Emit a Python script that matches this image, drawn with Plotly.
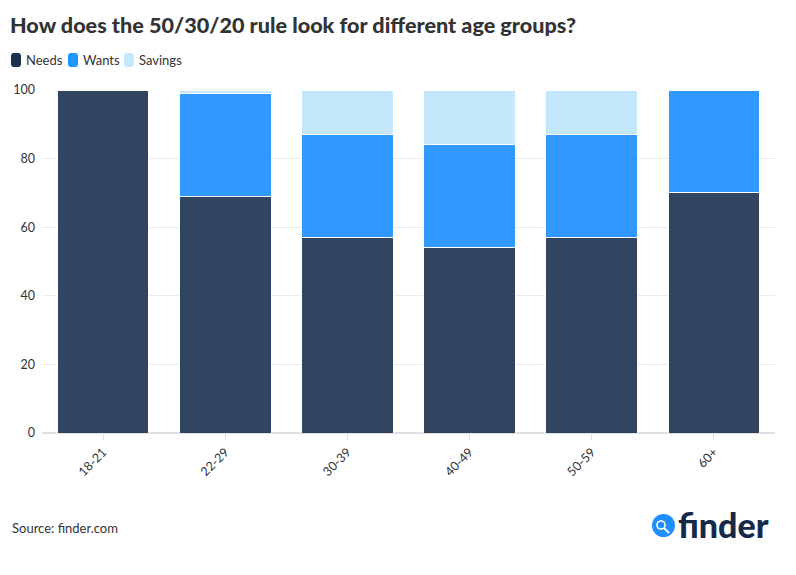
import plotly.graph_objects as go

categories = ["18-21", "22-29", "30-39", "40-49", "50-59", "60+"]
series_names = ["Needs", "Wants", "Savings"]
needs = [100, 69, 57, 54, 57, 70]
wants = [0, 30, 30, 30, 30, 30]
savings = [0, 1, 13, 16, 13, 0]

FONT = "Lato, Noto Sans, sans-serif"
OFF = 8  # page body margin
W, H = 796 - OFF, 575 - OFF
L, R, T, B = 42 - OFF, 21, 90 - OFF, 142
PW, PH = W - L - R, H - T - B


def px(x):
    return (x - OFF - L) / PW


def py(y):
    return (H - B - (y - OFF)) / PH


bar_colors = ["#1b3150", "#1a8eff", "#bfe5fb"]
swatch_colors = ["#1b3150", "#2196fa", "#c4e8fc"]

fig = go.Figure()
for name, vals, col in zip(series_names, [needs, wants, savings], bar_colors):
    fig.add_trace(go.Bar(
        x=categories, y=vals, name=name,
        marker=dict(color=col, opacity=0.9, line=dict(color="white", width=1)),
    ))

fig.update_layout(
    barmode="stack",
    bargap=0.25,
    width=W, height=H,
    margin=dict(l=L, r=R, t=T, b=B, autoexpand=False),
    paper_bgcolor="white", plot_bgcolor="white",
    font=dict(family=FONT, size=12, color="#333333"),
    title=dict(text="How does the 50/30/20 rule look for different age groups?",
               x=(10 - OFF)/W, xanchor="left", xref="container",
               y=1 - (25 - OFF)/H, yanchor="middle", yref="container",
               font=dict(size=21.6, color="#333333", family=FONT, weight=900)),
    showlegend=False,
)
fig.update_xaxes(tickangle=-45, ticks="outside", ticklen=6, tickcolor="#e0e0e0",
                 showline=False, automargin=False, tickfont=dict(size=12.5, color="#333333"))
fig.update_yaxes(range=[0, 100], tickvals=[0, 20, 40, 60, 80, 100], automargin=False,
                 showgrid=True, gridcolor="#ebebeb", zeroline=True, zerolinecolor="#e0e0e0",
                 tickfont=dict(size=12.5, color="#333333"), ticklen=0, ticklabelstandoff=6)

# legend (swatch + label)
sw_x = [11, 68, 124]
tx_x = [24, 81, 137]


def rrect(x0, y0, x1, y1, r):
    X0, X1 = px(x0), px(x1)
    Y0, Y1 = py(y1), py(y0)
    rx, ry = r / PW, r / PH
    return (f"M {X0+rx},{Y0} L {X1-rx},{Y0} Q {X1},{Y0} {X1},{Y0+ry} "
            f"L {X1},{Y1-ry} Q {X1},{Y1} {X1-rx},{Y1} L {X0+rx},{Y1} "
            f"Q {X0},{Y1} {X0},{Y1-ry} L {X0},{Y0+ry} Q {X0},{Y0} {X0+rx},{Y0} Z")


for name, col, sx, tx in zip(series_names, swatch_colors, sw_x, tx_x):
    fig.add_shape(type="path", xref="paper", yref="paper",
                  path=rrect(sx, 53, sx + 10, 67, 3),
                  fillcolor=col, line=dict(width=0))
    fig.add_annotation(text=name, xref="paper", yref="paper",
                       x=px(tx), y=py(60), xanchor="left", yanchor="middle",
                       showarrow=False, font=dict(size=13, color="#333333"))

fig.add_annotation(text="Source: finder.com", xref="paper", yref="paper",
                   x=px(10), y=py(528), xanchor="left", yanchor="middle",
                   showarrow=False, font=dict(size=13, color="#333333"))
# finder logo
fig.add_shape(type="circle", xref="paper", yref="paper",
              x0=px(652), x1=px(675), y0=py(537), y1=py(514),
              fillcolor="#1f8fff", line=dict(width=0))
fig.add_shape(type="circle", xref="paper", yref="paper",
              x0=px(657), x1=px(665), y0=py(529), y1=py(521),
              fillcolor="rgba(0,0,0,0)", line=dict(width=1.6, color="white"))
fig.add_shape(type="line", xref="paper", yref="paper",
              x0=px(664), x1=px(669), y0=py(528), y1=py(533),
              line=dict(width=2, color="white"))
fig.add_annotation(text="finder", xref="paper", yref="paper",
                   x=px(676), y=py(524), xanchor="left", yanchor="middle",
                   showarrow=False, font=dict(size=34, color="#16294a", family=FONT, weight=900))

fig.write_html("out.html")
